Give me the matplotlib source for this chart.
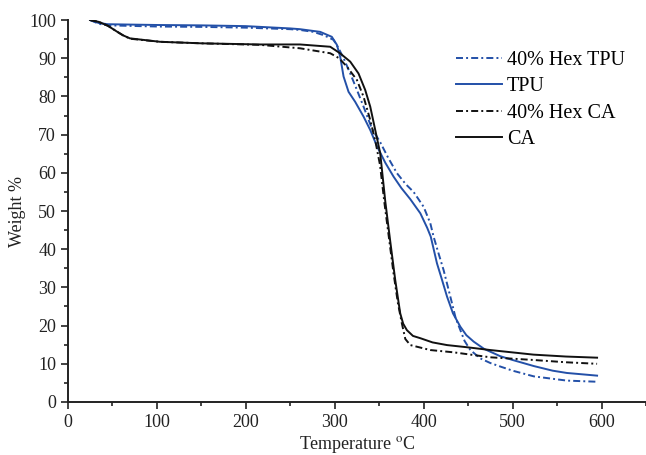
import matplotlib
matplotlib.use("Agg")
import matplotlib.pyplot as plt
from matplotlib.ticker import MultipleLocator

plt.rcParams['font.family'] = ['Liberation Serif', 'DejaVu Serif']
plt.rcParams['mathtext.fontset'] = 'stix'

# 40% Hex TPU
t_hex_tpu = [25, 35, 45, 100, 150, 200, 250, 261, 276, 288, 298.7, 304, 310, 317.5, 325, 332.5, 341.8,
             351.2, 360, 370, 380, 388.7, 400, 407.5, 411.2, 416, 422.5, 430, 436, 441.3, 446, 452.5,
             463.8, 475, 486, 500, 524, 561, 595]
w_hex_tpu = [100, 99.0, 98.6, 98.3, 98.2, 98.0, 97.6, 97.4, 96.9, 96.0, 94.8, 92.8, 90, 86, 81.7, 77.3, 71.6,
             68.0, 64.0, 59.9, 57.0, 55, 51.1, 46.8, 43.3, 39.5, 34.5, 27.6, 22, 18.8, 16, 13.6,
             11.4, 10.2, 9.3, 8.2, 6.7, 5.6, 5.3]
# TPU
t_tpu = [25, 35, 45, 100, 150, 200, 250, 261, 283.7, 296.8, 302.5, 306.2, 310, 315.6, 323, 332.5, 340,
         347.5, 357, 366.2, 375, 385, 396.3, 404, 408, 415, 420, 426.3, 433, 441.3, 448, 456.3, 468,
         486, 500, 524, 545, 561, 595]
w_tpu = [100, 99.2, 98.9, 98.7, 98.6, 98.4, 97.8, 97.6, 96.9, 95.6, 93.5, 90.4, 85.2, 81.2, 78.6, 74.7, 71.2,
         67.0, 62.6, 59, 56, 53.1, 49.4, 45.6, 43.3, 36.3, 32.5, 27.6, 23.2, 19.7, 17.5, 15.8, 13.9,
         12.0, 11.0, 9.4, 8.2, 7.6, 6.9]
# 40% Hex CA
t_hex_ca = [25, 35, 45, 55, 62, 70, 103.6, 150, 216, 261, 295, 305, 313.7, 325, 332.5, 340, 346, 351,
            356, 361, 366, 371, 375.6, 379.4, 385, 407.5, 433.8, 475, 523.5, 560, 595]
w_hex_ca = [100, 99.5, 98.5, 97, 96, 95.1, 94.3, 93.9, 93.5, 92.6, 91.3, 90, 87.8, 84.3, 79.9, 73.8, 68, 62,
            52, 43, 34, 26, 20.5, 16.5, 14.9, 13.6, 13.0, 11.7, 11.0, 10.4, 10.0]
# CA
t_ca = [25, 35, 45, 55, 62, 69.8, 103.6, 150, 216, 261, 295, 306, 317.5, 326.8, 334.3, 340, 345.6,
        351.2, 356.9, 362.5, 368.1, 373.7, 377, 381.2, 388, 396.3, 410, 426.3, 450, 475, 523.5, 560, 595]
w_ca = [100, 99.5, 98.5, 97, 96, 95.2, 94.3, 93.9, 93.6, 93.6, 93.0, 91.3, 89.1, 86, 81.7, 77.3, 71.2,
        65.1, 52.5, 42, 31.9, 23.2, 20.5, 18.8, 17.3, 16.7, 15.6, 14.9, 14.3, 13.6, 12.4, 11.9, 11.6]

blue = '#2350a8'
dark = '#111111'
dashdot = (0, (3.6, 1.6, 1.0, 1.6))

fig = plt.figure(figsize=(6.46, 4.55), dpi=100)
ax = fig.add_axes([0.105, 0.1165, 0.895, 0.8395])

ax.plot(t_hex_tpu, w_hex_tpu, color=blue, lw=1.4, linestyle=dashdot, label='40% Hex TPU')
ax.plot(t_tpu, w_tpu, color=blue, lw=1.4, label='TPU')
ax.plot(t_hex_ca, w_hex_ca, color=dark, lw=1.4, linestyle=dashdot, label='40% Hex CA')
ax.plot(t_ca, w_ca, color=dark, lw=1.4, label='CA')

ax.set_xlim(0, 650)
ax.set_ylim(0, 100)
ax.xaxis.set_major_locator(MultipleLocator(100))
ax.xaxis.set_minor_locator(MultipleLocator(50))
ax.yaxis.set_major_locator(MultipleLocator(10))
ax.yaxis.set_minor_locator(MultipleLocator(5))
ax.tick_params(which='both', direction='out', width=1.2, colors='#222222', labelsize=13)
ax.tick_params(which='major', length=5)
ax.tick_params(which='minor', length=3)
for s in ['top', 'right']:
    ax.spines[s].set_visible(False)
for s in ['left', 'bottom']:
    ax.spines[s].set_linewidth(1.4)
    ax.spines[s].set_color('#222222')

ax.set_xlabel('Temperature $^{\\mathrm{o}}$C', fontsize=13, labelpad=2, color='#222222')
ax.set_ylabel('Weight %', fontsize=13, labelpad=2, color='#222222')

ax.legend(loc='upper left', bbox_to_anchor=(0.65, 0.95), frameon=False, fontsize=14.5,
          handlelength=2.3, handletextpad=0.25, labelspacing=0.35, borderaxespad=0.2)

fig.savefig('out.png', dpi=100)
